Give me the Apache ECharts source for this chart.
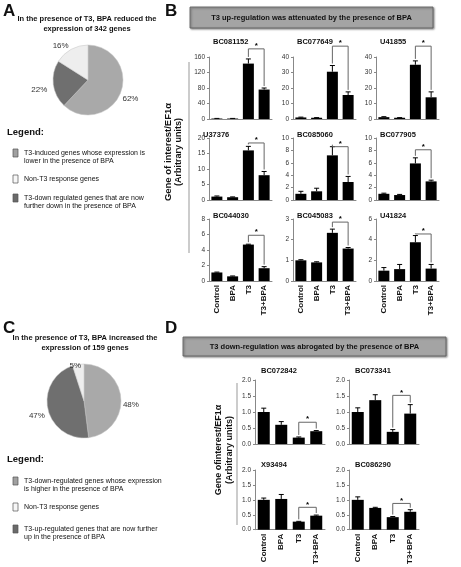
<!DOCTYPE html>
<html><head><meta charset="utf-8">
<script src="https://cdn.jsdelivr.net/npm/echarts@6/dist/echarts.min.js"></script>
<style>html,body{margin:0;padding:0;background:#fff}#c{width:461px;height:567px}</style>
</head><body><div id="c"></div>
<script>
// ---------------- DATA ----------------
const categories = ['Control', 'BPA', 'T3', 'T3+BPA'];

// Panel A pie
const pieALabels = ['T3-induced genes whose expression is lower in the presence of BPA', 'T3-down regulated genes that are now further down in the presence of BPA', 'Non-T3 response genes'];
const pieAValues = [62, 22, 16];
// Panel C pie
const pieCLabels = ['T3-down-regulated genes whose expression is higher in the presence of BPA', 'T3-up-regulated genes that are now further up in the presence of BPA', 'Non-T3 response genes'];
const pieCValues = [48, 47, 5];

// Panel B genes
const bGenes = ['BC081152', 'BC077649', 'U41855', 'U37376', 'BC085060', 'BC077905', 'BC044030', 'BC045083', 'U41824'];
const bMeans = [
  [1.2, 1.2, 143, 76],
  [1.0, 0.8, 30.5, 15.5],
  [1.2, 0.8, 35, 14],
  [1.1, 0.9, 16, 8],
  [1.0, 1.4, 7.2, 2.9],
  [1.0, 0.8, 5.9, 3.0],
  [1.1, 0.6, 4.7, 1.65],
  [1.0, 0.9, 2.33, 1.57],
  [1.0, 1.15, 3.75, 1.2]
];
const bErrors = [
  [0.3, 0.3, 12, 4],
  [0.2, 0.1, 4, 2],
  [0.3, 0.1, 2.5, 3.5],
  [0.2, 0.1, 1.3, 1.2],
  [0.4, 0.5, 1.4, 0.9],
  [0.1, 0.1, 0.9, 0.2],
  [0.05, 0.05, 0.05, 0.2],
  [0.03, 0.03, 0.18, 0.05],
  [0.3, 0.45, 0.65, 0.4]
];
const bAxisMax = [160, 40, 40, 20, 10, 10, 8, 3, 6];
const bAxisStep = [40, 10, 10, 5, 2, 2, 2, 1, 2];
const bBracket = [181, 47, 47, 18.4, 8.6, 8.1, 5.9, 2.85, 4.55];

// Panel D genes
const dGenes = ['BC072842', 'BC073341', 'X93494', 'BC086290'];
const dMeans = [
  [1.0, 0.6, 0.2, 0.4],
  [1.0, 1.37, 0.38, 0.95],
  [1.0, 1.03, 0.27, 0.47],
  [1.0, 0.73, 0.42, 0.6]
];
const dErrors = [
  [0.12, 0.1, 0.02, 0.02],
  [0.13, 0.17, 0.07, 0.28],
  [0.06, 0.15, 0.01, 0.02],
  [0.1, 0.02, 0.02, 0.07]
];
const dAxisMax = [2, 2, 2, 2];
const dAxisStep = [0.5, 0.5, 0.5, 0.5];
const dBracket = [0.68, 1.52, 0.75, 0.88];

// ---------------- LAYOUT / STYLE ----------------
const FF = 'Arial, "Liberation Sans", Helvetica, sans-serif';
const grids = [], xAxes = [], yAxes = [], series = [], graphics = [];

function errRender(params, api) {
  const x = api.value(0), y = api.value(1), e = api.value(2);
  const p0 = api.coord([x, y]), p1 = api.coord([x, y + e]);
  const cap = 2.5;
  return { type: 'group', children: [
    { type: 'line', shape: { x1: p0[0], y1: p0[1], x2: p1[0], y2: p1[1] }, style: { stroke: '#000', lineWidth: 1 } },
    { type: 'line', shape: { x1: p1[0] - cap, y1: p1[1], x2: p1[0] + cap, y2: p1[1] }, style: { stroke: '#000', lineWidth: 1 } }
  ] };
}
function bracketRender(params, api) {
  const top = api.value(1), lo1 = api.value(2), lo2 = api.value(3);
  const a = api.coord([2, top]), b = api.coord([3, top]);
  const a0 = api.coord([2, lo1]), b0 = api.coord([3, lo2]);
  const gap = 2;
  return { type: 'group', children: [
    { type: 'polyline', shape: { points: [[a[0], a0[1] - gap], [a[0], a[1]], [b[0], b[1]], [b[0], b0[1] - gap]] }, style: { stroke: '#666', fill: null, lineWidth: 1 } },
    { type: 'text', x: (a[0] + b[0]) / 2, y: a[1] + 1, style: { text: '*', font: 'bold 8px ' + FF, fill: '#000', align: 'center', verticalAlign: 'bottom' } }
  ] };
}

function addChart(o) {
  const i = grids.length;
  grids.push({ left: o.left, top: o.top, width: o.w, height: o.h });
  xAxes.push({ type: 'category', gridIndex: i, data: categories, boundaryGap: true,
    axisLine: { lineStyle: { color: '#888', width: 1 } }, axisTick: { show: false },
    axisLabel: { show: o.showX, rotate: 90, fontSize: 8, fontWeight: 'bold', color: '#111', margin: 4, fontFamily: FF, interval: 0 } });
  yAxes.push({ type: 'value', gridIndex: i, min: 0, max: o.max, interval: o.step,
    axisLine: { show: true, lineStyle: { color: '#888', width: 1 } },
    axisTick: { show: true, length: 2, lineStyle: { color: '#888' } },
    splitLine: { show: false },
    axisLabel: { fontSize: 6.5, color: '#333', margin: 4, fontFamily: FF, formatter: v => o.dec ? v.toFixed(1) : String(v) } });
  series.push({ type: 'bar', xAxisIndex: i, yAxisIndex: i, data: o.means, barWidth: o.bw, itemStyle: { color: '#000' }, silent: true });
  series.push({ type: 'custom', xAxisIndex: i, yAxisIndex: i, clip: false, silent: true, encode: { x: 0, y: 1 },
    data: o.means.map((m, k) => [k, m, o.errs[k]]), renderItem: errRender });
  series.push({ type: 'custom', xAxisIndex: i, yAxisIndex: i, clip: false, silent: true, encode: { x: 0, y: 1 },
    data: [[2, o.bracket, o.means[2] + o.errs[2], o.means[3] + o.errs[3]]], renderItem: bracketRender });
  graphics.push({ type: 'text', left: o.left + o.tdx, top: o.ty, style: { text: o.name, font: 'bold 7.5px ' + FF, fill: '#111' } });
}

// Panel B grid
const bColLeft = [209, 293, 376], bColW = 63;
const bRowTop = [57, 138, 219], bRowH = 62;
const bTitleTop = [38, 131, 212];
for (let k = 0; k < 9; k++) {
  const r = Math.floor(k / 3), c = k % 3;
  addChart({ left: bColLeft[c], top: bRowTop[r], w: bColW, h: bRowH, name: bGenes[k], means: bMeans[k], errs: bErrors[k],
    max: bAxisMax[k], step: bAxisStep[k], bracket: bBracket[k], showX: r === 2, dec: false, bw: 11,
    ty: bTitleTop[r], tdx: (k === 3 ? -6 : 4) });
}
// Panel D grid
const dColLeft = [255, 349], dColW = 70;
const dRowTop = [380, 470], dRowH = 64;
const dTitleTop = [367, 461];
for (let k = 0; k < 4; k++) {
  const r = Math.floor(k / 2), c = k % 2;
  addChart({ left: dColLeft[c], top: dRowTop[r], w: dColW, h: dRowH, name: dGenes[k], means: dMeans[k], errs: dErrors[k],
    max: dAxisMax[k], step: dAxisStep[k], bracket: dBracket[k], showX: r === 1, dec: true, bw: 12,
    ty: dTitleTop[r], tdx: 6 });
}

// Pies
const pieColors = ['#a9a9a9', '#6f6f6f', '#eeeeee'];
function pieSeries(values, names, center, radius, nudge) {
  return { type: 'pie', center, radius, startAngle: 90, clockwise: true, silent: true,
    data: values.map((v, k) => ({ value: v, name: names[k], itemStyle: { color: pieColors[k] } })),
    itemStyle: { borderColor: '#c4c4c4', borderWidth: 0.5 },
    label: { show: true, position: 'outside', formatter: p => p.value + '%', fontSize: 8, color: '#333', fontFamily: FF },
    labelLine: { show: false, length: 1, length2: 0 },
    labelLayout: p => ({ dx: nudge[p.dataIndex][0], dy: nudge[p.dataIndex][1] }) };
}
series.push(pieSeries(pieAValues, pieALabels, [88, 80], 35, [[-4, 6], [0, 5], [3, -3]]));
series.push(pieSeries(pieCValues, pieCLabels, [84, 401], 37, [[-4, 6], [3, 7], [8, 2]]));

// Text & decorations
function txt(x, y, s, font, align, extra) {
  graphics.push(Object.assign({ type: 'text', x, y, style: { text: s, font: font + ' ' + FF, fill: '#111', align: align || 'left', verticalAlign: 'middle' } }, extra || {}));
}
txt(3, 11, 'A', 'bold 17px');
txt(165, 11, 'B', 'bold 17px');
txt(3, 328, 'C', 'bold 17px');
txt(165, 328, 'D', 'bold 17px');

txt(87, 19, 'In the presence of T3, BPA reduced the', 'bold 7.5px', 'center');
txt(87, 29, 'expression of 342 genes', 'bold 7.5px', 'center');
txt(85, 338, 'In the presence of T3, BPA increased the', 'bold 7.5px', 'center');
txt(85, 348, 'expression of 159 genes', 'bold 7.5px', 'center');

function legendBlock(y0, lines) {
  txt(7, y0, 'Legend:', 'bold 9.5px');
  const swatch = ['#a0a0a0', '#f7f7f7', '#6a6a6a'];
  lines.forEach((ln, k) => {
    graphics.push({ type: 'rect', shape: { x: 13, y: ln.y - 4, width: 5, height: 8 }, style: { fill: swatch[k], stroke: '#555', lineWidth: 0.7 } });
    ln.t.forEach((t, j) => txt(24, ln.y + j * 8, t, '7px'));
  });
}
legendBlock(132, [
  { y: 153, t: ['T3-induced genes whose expression is', 'lower in the presence of BPA'] },
  { y: 179, t: ['Non-T3 response genes'] },
  { y: 198, t: ['T3-down regulated genes that are now', 'further down in the presence of BPA'] }
]);
legendBlock(459, [
  { y: 481, t: ['T3-down-regulated genes whose expression', 'is higher in the presence of BPA'] },
  { y: 507, t: ['Non-T3 response genes'] },
  { y: 529, t: ['T3-up-regulated genes that are now further', 'up in the presence of BPA'] }
]);

function header(x, y, w, h, s) {
  graphics.push({ type: 'rect', shape: { x, y, width: w, height: h }, style: { fill: '#a4a4a4', stroke: '#5a5a5a', lineWidth: 0.8, shadowBlur: 2, shadowOffsetX: 1, shadowOffsetY: 1, shadowColor: 'rgba(0,0,0,0.45)' } });
  txt(x + w / 2, y + h / 2, s, 'bold 7.5px', 'center');
}
header(190, 7, 243, 21, 'T3 up-regulation was attenuated by the presence of BPA');
header(183, 337, 263, 19, 'T3 down-regulation was abrogated by the presence of BPA');

// y-axis names
graphics.push({ type: 'line', shape: { x1: 189, y1: 62, x2: 189, y2: 253 }, style: { stroke: '#999', lineWidth: 1 } });
txt(168, 152, 'Gene of interest/EF1α', 'bold 9.5px', 'center', { rotation: Math.PI / 2 });
txt(179, 152, '(Arbitrary units)', 'bold 9px', 'center', { rotation: Math.PI / 2 });
graphics.push({ type: 'line', shape: { x1: 237, y1: 383, x2: 237, y2: 525 }, style: { stroke: '#999', lineWidth: 1 } });
txt(219, 450, 'Gene ofinterest/EF1α', 'bold 9px', 'center', { rotation: Math.PI / 2 });
txt(230, 450, '(Arbitrary units)', 'bold 9px', 'center', { rotation: Math.PI / 2 });

const chart = echarts.init(document.getElementById('c'), null, { renderer: 'canvas' });
chart.setOption({ animation: false, backgroundColor: '#fff', textStyle: { fontFamily: FF },
  grid: grids, xAxis: xAxes, yAxis: yAxes, series, graphic: graphics });
</script></body></html>
